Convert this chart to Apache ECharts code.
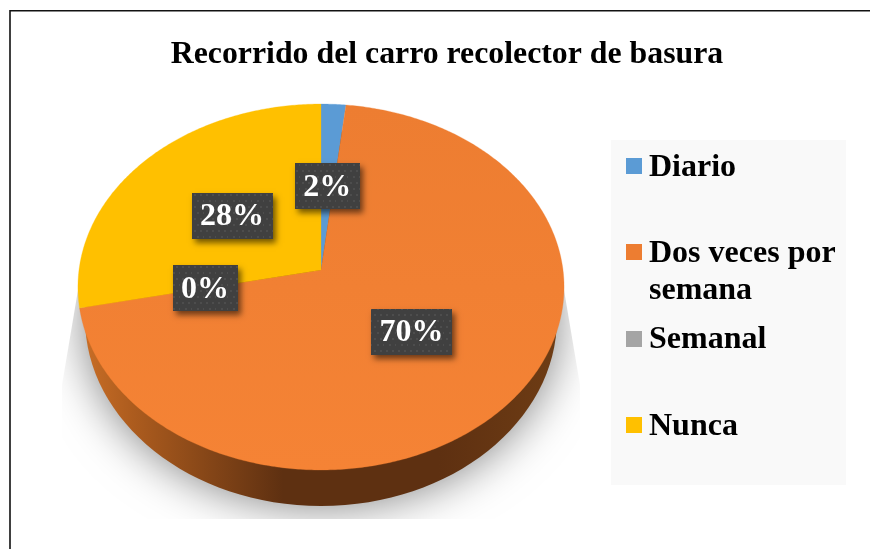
<!DOCTYPE html>
<html>
<head>
<meta charset="utf-8">
<style>html,body{margin:0;padding:0;background:#fff}#c{width:870px;height:549px}</style>
<script src="https://cdn.jsdelivr.net/npm/echarts@6/dist/echarts.min.js"></script>
</head>
<body>
<div id="c"></div>
<script>
const titleText = 'Recorrido del carro recolector de basura';
const categories = ['Diario', 'Dos veces por\nsemana', 'Semanal', 'Nunca'];
const values = [1.8, 69.9, 0, 28.3];
const labels = ['2%', '70%', '0%', '28%'];
const colors = ['#5b9bd5', '#ed7d31', '#a5a5a5', '#ffc000'];
const colorsFront = ['#5b9bd5', '#f58335', '#a5a5a5', '#ffc000'];

// layout constants of the tilted disc
const FONT = '"Liberation Serif","Times New Roman",serif';
const CX = 321, APEX_Y = 270, K = 0.093, A = 242, B = 181.4;
const labelRadius = [0.483, 0.49, 0.485, 0.487];
const labelBoxW = [65, 81, 65, 81];
const total = values.reduce((a, b) => a + b, 0);

function project(theta, r) {
  const u = Math.sin(theta) * r, v = -Math.cos(theta) * r;
  const w = 1 - K * v;
  return [CX + A * u / w, APEX_Y + B * v / w];
}
function sliceAngles(i) {
  let s = 0;
  for (let j = 0; j < i; j++) s += values[j];
  return [s / total * 2 * Math.PI, (s + values[i]) / total * 2 * Math.PI];
}

const tile = document.createElement('canvas');
tile.width = 12; tile.height = 12;
(function () {
  const g = tile.getContext('2d');
  g.fillStyle = '#404040'; g.fillRect(0, 0, 12, 12);
  g.fillStyle = '#4d4d4d';
  [[2, 2], [8, 2], [5, 8], [11, 8]].forEach(function (d) { g.fillRect(d[0], d[1], 2, 2); });
})();

const chart = echarts.init(document.getElementById('c'), null, {renderer: 'canvas', width: 870, height: 549});

chart.setOption({
  animation: false,
  backgroundColor: '#ffffff',
  title: {
    text: titleText, left: 442, top: 34, textAlign: 'center',
    textStyle: {fontFamily: FONT, fontSize: 31.8, fontWeight: 'bold', color: '#000'}
  },
  graphic: [
    {type: 'polyline', z: 0, shape: {points: [[10, 549], [10, 10.8], [870, 10.8]]},
     style: {stroke: '#111', lineWidth: 1.6, fill: null}}
  ],
  series: [
    { // ground shadow and side wall
      type: 'custom', coordinateSystem: 'none', silent: true, z: 2,
      data: [0],
      renderItem: function () {
        const frontIdx = (function () {
          for (let i = 0; i < values.length; i++) {
            const a = sliceAngles(i);
            if (a[0] <= Math.PI && a[1] >= Math.PI) return i;
          }
          return 0;
        })();
        return {
          type: 'group',
          children: [
            {
              type: 'group',
              clipPath: {type: 'polygon', shape: {points: [[78, 290], [564, 290], [580, 385], [580, 519], [62, 519], [62, 385]]}},
              children: [{
                type: 'ellipse',
                shape: {cx: CX, cy: 318, rx: 235, ry: 187},
                style: {fill: '#888888', shadowBlur: 48, shadowColor: '#7a7a7a'}
              }]
            },
            {
              type: 'ellipse',
              shape: {cx: CX, cy: 318, rx: 236, ry: 188},
              style: {
                fill: frontIdx === 1 ? {
                  type: 'linear', x: 0, y: 0, x2: 1, y2: 0,
                  colorStops: [
                    {offset: 0, color: '#c76d26'},
                    {offset: 0.1, color: '#ad5c1e'},
                    {offset: 0.42, color: '#5e3011'},
                    {offset: 0.75, color: '#5e3011'},
                    {offset: 1, color: '#6e3c14'}
                  ]
                } : colors[frontIdx]
              }
            }
          ]
        };
      }
    },
    { // top face
      type: 'custom', coordinateSystem: 'none', silent: true, z: 3,
      data: values,
      renderItem: function (params, api) {
        const i = params.dataIndex;
        const v = api.value(0);
        if (!v) return null;
        const a = sliceAngles(i);
        const pts = [[CX, APEX_Y]];
        const n = Math.max(4, Math.ceil((a[1] - a[0]) / 0.01));
        for (let k = 0; k <= n; k++) pts.push(project(a[0] + (a[1] - a[0]) * k / n, 1));
        return {
          type: 'polygon',
          shape: {points: pts},
          style: {
            fill: {type: 'linear', x: 0, y: 0, x2: 0, y2: 1, colorStops: [
              {offset: 0, color: colors[i]}, {offset: 1, color: colorsFront[i]}
            ]},
            stroke: colors[i], lineWidth: 0.3
          }
        };
      }
    },
    { // data labels
      type: 'custom', coordinateSystem: 'none', silent: true, z: 4,
      data: values,
      renderItem: function (params) {
        const i = params.dataIndex;
        const a = sliceAngles(i);
        const p = project((a[0] + a[1]) / 2, labelRadius[i]);
        const w = labelBoxW[i], h = 46;
        return {
          type: 'group',
          children: [
            {type: 'rect', shape: {x: Math.round(p[0] - w / 2), y: Math.round(p[1] - h / 2), width: w, height: h},
             style: {fill: '#404040', shadowBlur: 6, shadowOffsetX: 3, shadowOffsetY: 4, shadowColor: 'rgba(0,0,0,0.55)'}},
            {type: 'rect', shape: {x: Math.round(p[0] - w / 2), y: Math.round(p[1] - h / 2), width: w, height: h},
             style: {fill: {image: tile, repeat: 'repeat'}}},
            {type: 'text', x: p[0], y: p[1] + 1,
             style: {text: labels[i], fill: '#fff', font: 'bold 32px ' + FONT, textAlign: 'center', textVerticalAlign: 'middle'}}
          ]
        };
      }
    },
    { // legend panel
      type: 'custom', coordinateSystem: 'none', silent: true, z: 1,
      data: [0],
      renderItem: function () {
        return {type: 'rect', shape: {x: 611, y: 140, width: 235, height: 345}, style: {fill: '#f9f9f9'}};
      }
    },
    { // legend entries
      type: 'custom', coordinateSystem: 'none', silent: true, z: 5,
      data: categories.map((c, i) => i),
      renderItem: function (params) {
        const i = params.dataIndex;
        const yc = 166 + 86.3 * i;
        return {
          type: 'group',
          children: [
            {type: 'rect', shape: {x: 626, y: Math.round(yc) - 8, width: 16, height: 16}, style: {fill: colors[i]}},
            {type: 'text', x: 649, y: yc - 17,
             style: {text: categories[i], fill: '#000', font: 'bold 32px ' + FONT, lineHeight: 37, textAlign: 'left', textVerticalAlign: 'top'}}
          ]
        };
      }
    }
  ]
});
</script>
</body>
</html>
